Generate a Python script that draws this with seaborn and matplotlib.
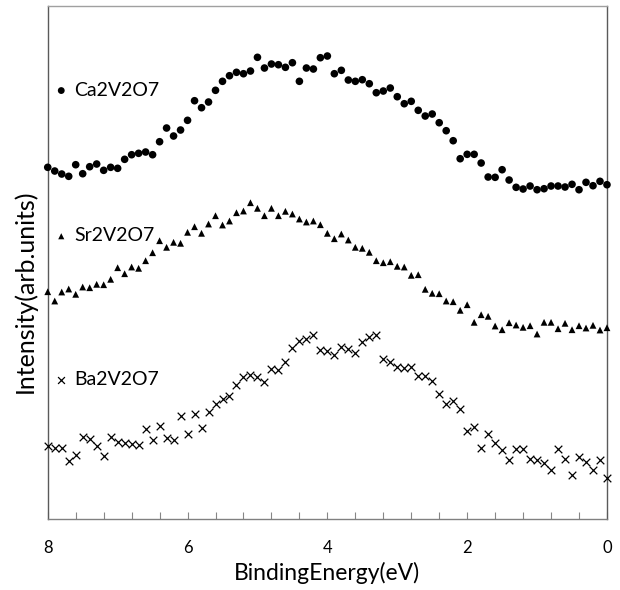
import matplotlib
matplotlib.use("Agg")
import matplotlib.pyplot as plt
import numpy as np
import pandas as pd
import seaborn as sns

# binding energy grid, 8.0 eV down to 0.0 eV in 0.1 eV steps
energy = [round(8.0 - 0.1 * i, 1) for i in range(81)]

# intensity readings (arb. units), same order as energy
ca2v2o7 = [353.7, 350.0, 347.0, 344.7, 356.3, 347.3, 354.3, 357.0, 350.7, 353.7,
           352.7, 361.7, 366.3, 367.7, 369.0, 366.3, 379.3, 393.0, 385.0, 391.0,
           400.7, 420.3, 413.3, 419.0, 430.7, 439.7, 445.3, 448.7, 447.3, 450.0,
           463.7, 453.0, 457.0, 456.3, 453.7, 458.3, 439.7, 453.0, 452.0, 463.3,
           465.0, 447.3, 450.7, 441.0, 439.7, 441.3, 437.3, 428.3, 430.0, 433.0,
           424.3, 417.3, 419.7, 410.7, 405.0, 407.0, 398.3, 390.3, 380.3, 362.3,
           366.7, 366.7, 358.0, 344.0, 343.7, 351.3, 341.0, 333.7, 332.0, 335.0,
           331.3, 332.3, 335.0, 335.0, 334.0, 336.7, 331.3, 338.7, 335.3, 339.7,
           336.3]
sr2v2o7 = [229.3, 220.0, 229.0, 232.0, 226.7, 234.0, 233.3, 236.7, 236.3, 241.7,
           253.3, 247.3, 254.0, 252.7, 260.3, 268.3, 280.3, 273.7, 278.7, 277.7,
           288.7, 294.3, 287.7, 297.0, 305.3, 296.0, 300.0, 308.3, 310.0, 318.3,
           312.7, 305.3, 312.7, 305.3, 309.7, 307.0, 302.0, 299.0, 300.0, 296.3,
           287.7, 282.3, 287.0, 281.0, 273.7, 272.7, 268.7, 260.3, 258.3, 259.3,
           254.7, 254.0, 245.7, 246.3, 231.7, 227.7, 227.3, 220.0, 219.3, 210.7,
           216.3, 198.7, 206.3, 204.7, 195.0, 191.3, 198.3, 196.0, 193.7, 195.3,
           187.0, 198.7, 198.7, 192.3, 197.7, 191.3, 195.3, 193.0, 195.7, 191.0,
           193.3]
ba2v2o7 = [75.0, 72.7, 73.3, 60.3, 66.0, 83.7, 82.3, 75.3, 65.3, 84.3,
           79.3, 77.7, 77.0, 76.3, 92.0, 81.0, 95.3, 82.7, 81.0, 104.7,
           87.3, 107.0, 92.7, 108.7, 116.7, 122.0, 125.3, 136.3, 143.7, 146.3,
           143.7, 138.7, 152.3, 151.3, 159.0, 172.7, 180.3, 182.0, 186.0, 170.7,
           169.7, 166.3, 174.3, 171.7, 167.7, 178.7, 183.7, 186.3, 162.0, 158.7,
           153.7, 153.0, 154.3, 145.0, 144.7, 140.0, 126.7, 117.0, 120.0, 112.0,
           90.3, 94.3, 73.3, 87.0, 77.7, 70.7, 61.3, 71.7, 72.0, 61.7,
           61.0, 57.7, 51.0, 72.0, 61.7, 46.3, 63.7, 59.3, 50.7, 61.0,
           42.7]

samples = ["Ca2V2O7", "Sr2V2O7", "Ba2V2O7"]
markers = ["o", "^", "x"]

df = pd.DataFrame({
    "energy": energy * 3,
    "intensity": ca2v2o7 + sr2v2o7 + ba2v2o7,
    "sample": np.repeat(samples, len(energy)),
})

plt.rcParams["font.family"] = ["Lato", "DejaVu Sans"]

fig = plt.figure(figsize=(6.2, 5.9), dpi=100)
ax = fig.add_axes([0.077, 0.1203, 0.902, 0.8695])

sizes = {"o": 30, "^": 24, "x": 30}
for name, m in zip(samples, markers):
    kw = dict(edgecolor="none") if m != "x" else dict(linewidth=0.9)
    sns.scatterplot(
        data=df[df["sample"] == name],
        x="energy",
        y="intensity",
        marker=m,
        color="black",
        s=sizes[m],
        ax=ax,
        label=name,
        clip_on=False,
        zorder=3,
        **kw,
    )
hs, ls = ax.get_legend_handles_labels()
ax.get_legend().remove()

# each sample is labelled next to its own curve
label_y = [0.836, 0.552, 0.271]
legends = []
for h, l, yy in zip(hs, ls, label_y):
    leg = ax.legend(
        [h], [l],
        loc="center left",
        bbox_to_anchor=(0.012, yy),
        frameon=False,
        handlelength=0.7,
        handletextpad=0.3,
        borderpad=0,
        borderaxespad=0,
        fontsize=14,
        markerscale=0.9,
    )
    legends.append(leg)
ax.get_legend().remove()
for leg in legends:
    ax.add_artist(leg)

ax.set_xlim(8, 0)
ax.set_ylim(2, 515)
ax.set_xticks([8, 6, 4, 2, 0])
ax.set_xticks(np.arange(0, 8.01, 0.4), minor=True)
ax.set_yticks([])
ax.tick_params(axis="x", which="both", direction="in", length=5, width=0.8,
               color="#868686", labelsize=12, pad=15)

for side in ["top", "bottom", "left", "right"]:
    ax.spines[side].set_color("#808080")
    ax.spines[side].set_linewidth(1.0)
ax.spines["left"].set_color("#5a5a5a")
ax.spines["right"].set_color("#5a5a5a")
ax.spines["top"].set_color("#a0a0a0")

ax.set_xlabel("BindingEnergy(eV)", fontsize=16.5, labelpad=4)
ax.set_ylabel("Intensity(arb.units)", fontsize=18)
ax.yaxis.set_label_coords(-0.02, 0.444)

fig.savefig("out.png", dpi=100)
